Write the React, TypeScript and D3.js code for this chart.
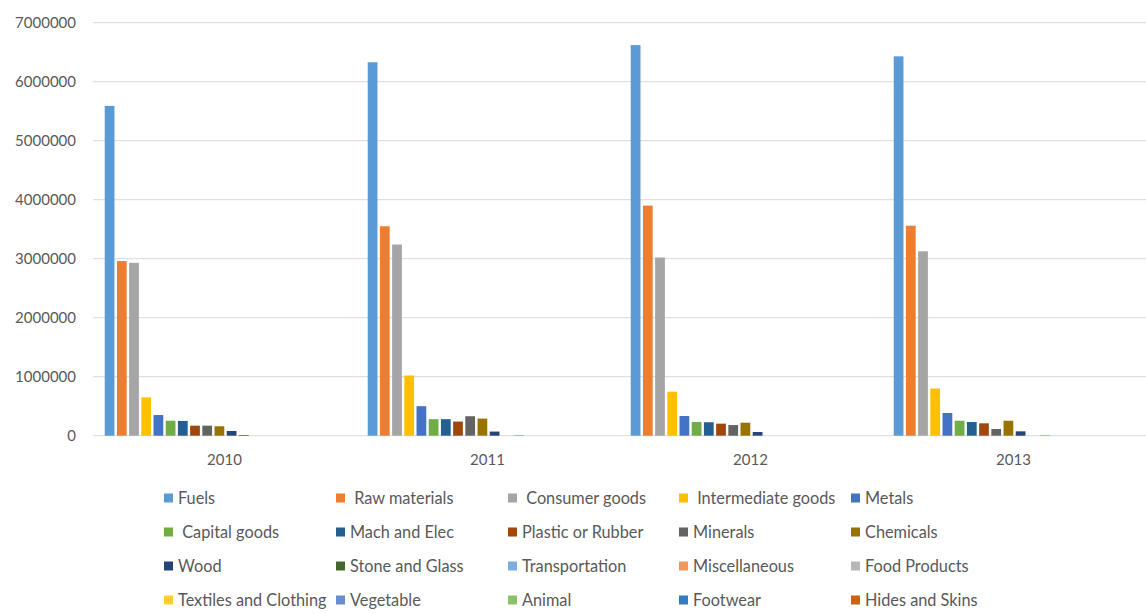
import React from "react";
import * as d3 from "d3";

const years = ["2010", "2011", "2012", "2013"];
const seriesNames = [
  "Fuels", " Raw materials", " Consumer goods", " Intermediate goods", "Metals",
  " Capital goods", "Mach and Elec", "Plastic or Rubber", "Minerals", "Chemicals",
  "Wood", "Stone and Glass", "Transportation", "Miscellaneous", "Food Products",
  "Textiles and Clothing", "Vegetable", "Animal", "Footwear", "Hides and Skins",
];
const seriesColors = [
  "#5B9BD5", "#ED7D31", "#A5A5A5", "#FFC000", "#4472C4",
  "#70AD47", "#255E91", "#9E480E", "#636363", "#997300",
  "#264478", "#43682B", "#7CAFDD", "#F1975A", "#B7B7B7",
  "#FFCD33", "#698ED0", "#8CC168", "#327DC2", "#D26012",
];
const values2010 = [5590000, 2960000, 2930000, 650000, 350000, 254000, 250000, 170000, 170000, 160000, 80000, 12000, 0, 0, 0, 0, 0, 0, 0, 0];
const values2011 = [6330000, 3550000, 3240000, 1020000, 500000, 280000, 280000, 240000, 330000, 290000, 70000, 0, 12000, 0, 0, 0, 0, 0, 0, 0];
const values2012 = [6620000, 3900000, 3020000, 746000, 334000, 232000, 228000, 204000, 180000, 220000, 63000, 0, 0, 0, 0, 0, 0, 0, 0, 0];
const values2013 = [6430000, 3560000, 3125000, 800000, 385000, 254000, 232000, 210000, 114000, 254000, 74000, 0, 10000, 0, 0, 0, 0, 0, 0, 0];
const yearValues = [values2010, values2011, values2012, values2013];
const yTicks = [0, 1000000, 2000000, 3000000, 4000000, 5000000, 6000000, 7000000];

const W = 1146;
const H = 614;
const FONT = "Lato, 'Open Sans', sans-serif";
const TEXT = "#595959";

export default function App() {
  const x0 = d3.scaleBand<string>().domain(years).range([93, 1145]).paddingInner(0).paddingOuter(0);
  const inset = 9.5;
  const x1 = d3
    .scaleBand<number>()
    .domain(d3.range(seriesNames.length))
    .range([inset + 1, x0.bandwidth() - inset + 1])
    .padding(0.2)
    .paddingOuter(0.1);
  const y = d3.scaleLinear().domain([0, 7000000]).range([435.7, 22.7]);

  const legendX = [164, 336, 508, 679, 851];
  const legendY = [498, 532, 566, 600];

  return (
    <svg
      width={W}
      height={H}
      style={{ position: "absolute", left: 0, top: 0, background: "#fff" }}
      fontFamily={FONT}
    >
      <rect x={0} y={0} width={W} height={H} fill="#fff" />
      {yTicks.map((t) => (
        <g key={t}>
          <line x1={93} x2={1146} y1={y(t)} y2={y(t)} stroke="#D9D9D9" strokeWidth={1} />
          <text x={76} y={y(t)} dy="0.35em" textAnchor="end" fontSize={15} fill={TEXT}>
            {t}
          </text>
        </g>
      ))}
      {years.map((yr, gi) => (
        <g key={yr} transform={`translate(${x0(yr)},0)`}>
          {yearValues[gi].map((v, si) =>
            v > 0 ? (
              <rect
                key={si}
                x={x1(si)}
                width={x1.bandwidth()}
                y={y(v)}
                height={y(0) - y(v)}
                fill={seriesColors[si]}
              />
            ) : null
          )}
          <text
            x={x0.bandwidth() / 2}
            y={460}
            dy="0.35em"
            textAnchor="middle"
            fontSize={15}
            fill={TEXT}
          >
            {yr}
          </text>
        </g>
      ))}
      {seriesNames.map((name, i) => {
        const col = i % 5;
        const row = Math.floor(i / 5);
        const lx = legendX[col];
        const ly = legendY[row];
        return (
          <g key={name}>
            <rect x={lx} y={ly - 4.5} width={9} height={9} fill={seriesColors[i]} />
            <text
              x={lx + 14}
              y={ly}
              dy="0.35em"
              fontSize={16.3}
              fill={TEXT}
              style={{ whiteSpace: "pre" }}
            >
              {name}
            </text>
          </g>
        );
      })}
    </svg>
  );
}
